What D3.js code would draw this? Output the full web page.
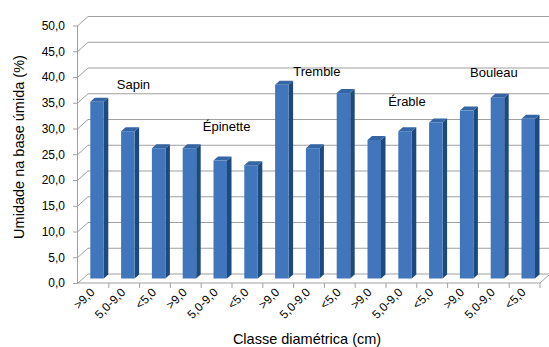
<!DOCTYPE html>
<html>
<head>
<meta charset="utf-8">
<script src="https://cdn.jsdelivr.net/npm/d3@7"></script>
<style>
  html, body { margin: 0; padding: 0; background: #fff; }
  svg { display: block; font-family: "Liberation Sans", Arial, sans-serif; }
</style>
</head>
<body>
<svg id="chart" width="549" height="347"></svg>
<script>
// ---- data ----
const categories = [">9,0", "5,0-9,0", "<5,0", ">9,0", "5,0-9,0", "<5,0", ">9,0", "5,0-9,0", "<5,0",
                    ">9,0", "5,0-9,0", "<5,0", ">9,0", "5,0-9,0", "<5,0"];
const values = [34.3, 28.6, 25.3, 25.3, 22.9, 22.0, 37.6, 25.3, 36.0, 26.9, 28.6, 30.3, 32.6, 35.1, 31.0];
const yTicks = [0, 5, 10, 15, 20, 25, 30, 35, 40, 45, 50];
const speciesLabels = ["Sapin", "Épinette", "Tremble", "Érable", "Bouleau"];
const speciesLabelValues = [37.6, 29.5, 40.1, 34.4, 40.0]; // vertical position of labels in data units
const speciesLabelCats = [1.26, 4.05, 6.99, 10.07, 12.73]; // horizontal position in category units

const yTitle = "Umidade na base úmida (%)";
const xTitle = "Classe diamétrica (cm)";

// ---- layout ----
const svg = d3.select("#chart");
const plotLeft = 78, plotRight = 540, plotBottom = 283, plotTop = 25.5;
const depthX = 10, depthY = -9;       // back wall offset
const x = d3.scaleBand().domain(d3.range(categories.length)).range([plotLeft, plotRight]).padding(0);
const xc = d3.scaleLinear().domain([0, categories.length]).range([plotLeft, plotRight]);
const y = d3.scaleLinear().domain([0, 50]).range([plotBottom, plotTop]);
const fmt = v => d3.format(".1f")(v).replace(".", ",");
const FONT = "Liberation Sans, Arial, sans-serif";

const gridColor = "#a0a0a0";
const g = svg.append("g");

// back wall gridlines + left side wall diagonals
yTicks.forEach(t => {
  const yy = y(t);
  g.append("line").attr("x1", plotLeft + depthX).attr("x2", plotRight + depthX)
    .attr("y1", yy + depthY).attr("y2", yy + depthY)
    .attr("stroke", gridColor).attr("stroke-width", 1);
  g.append("line").attr("x1", plotLeft).attr("x2", plotLeft + depthX)
    .attr("y1", yy).attr("y2", yy + depthY)
    .attr("stroke", gridColor).attr("stroke-width", 1);
});
// floor front edge and right diagonal
g.append("line").attr("x1", plotLeft).attr("x2", plotRight).attr("y1", plotBottom).attr("y2", plotBottom)
  .attr("stroke", gridColor);
g.append("line").attr("x1", plotRight).attr("x2", plotRight + depthX).attr("y1", plotBottom).attr("y2", plotBottom + depthY)
  .attr("stroke", gridColor);

// y axis (front)
const yAxis = d3.axisLeft(y).tickValues(yTicks).tickFormat(fmt).tickSize(5).tickPadding(8);
const ya = svg.append("g").attr("transform", `translate(${plotLeft},0)`).call(yAxis);
ya.attr("font-family", FONT);
ya.select(".domain").attr("stroke", gridColor).attr("d", `M-0.5,${plotBottom}V${plotTop}`);
ya.selectAll(".tick line").attr("stroke", gridColor);
ya.selectAll(".tick text").attr("font-size", 12).attr("fill", "#000");

// x ticks at band boundaries
const bounds = d3.range(1, categories.length + 1);
svg.append("g").selectAll("line").data(bounds).join("line")
  .attr("x1", d => xc(d)).attr("x2", d => xc(d))
  .attr("y1", plotBottom).attr("y2", plotBottom + 5)
  .attr("stroke", gridColor);

// bars (3D look)
const bw = 13.5, offX = 12.3, bDY = -4.5, sideX = 4.5, sideY = -4;
const bars = svg.append("g").selectAll("g").data(values).join("g");
bars.each(function(v, i) {
  const sel = d3.select(this);
  const x0 = x(i) + offX;
  const yb = y(0) + bDY;
  const yt = y(v) + bDY;
  // side face
  sel.append("path")
    .attr("d", `M${x0 + bw},${yt}L${x0 + bw + sideX},${yt + sideY}L${x0 + bw + sideX},${yb + sideY}L${x0 + bw},${yb}Z`)
    .attr("fill", "#1d4a7e");
  // top face
  sel.append("path")
    .attr("d", `M${x0},${yt}L${x0 + sideX},${yt + sideY}L${x0 + bw + sideX},${yt + sideY}L${x0 + bw},${yt}Z`)
    .attr("fill", "#3465a4");
  // front face
  sel.append("rect").attr("x", x0).attr("y", yt).attr("width", bw).attr("height", yb - yt)
    .attr("fill", "#4176bd");
});

// x tick labels rotated
svg.append("g").attr("font-family", FONT).selectAll("text").data(categories).join("text")
  .attr("transform", (d, i) => `translate(${x(i) + x.bandwidth() / 2 + 2},${plotBottom + 10}) rotate(-45)`)
  .attr("text-anchor", "end")
  .attr("font-size", 12)
  .attr("fill", "#000")
  .text(d => d);

// species labels
svg.append("g").attr("font-family", FONT).selectAll("text").data(speciesLabels).join("text")
  .attr("x", (d, i) => xc(speciesLabelCats[i]))
  .attr("y", (d, i) => y(speciesLabelValues[i]))
  .attr("font-size", 13)
  .attr("fill", "#000")
  .text(d => d);

// axis titles
svg.append("text").attr("x", 307).attr("y", 344).attr("text-anchor", "middle")
  .attr("font-family", FONT).attr("font-size", 14.5).attr("fill", "#000").text(xTitle);
svg.append("text").attr("transform", "translate(24,147) rotate(-90)").attr("text-anchor", "middle")
  .attr("font-family", FONT).attr("font-size", 14.5).attr("fill", "#000").text(yTitle);
</script>
</body>
</html>
